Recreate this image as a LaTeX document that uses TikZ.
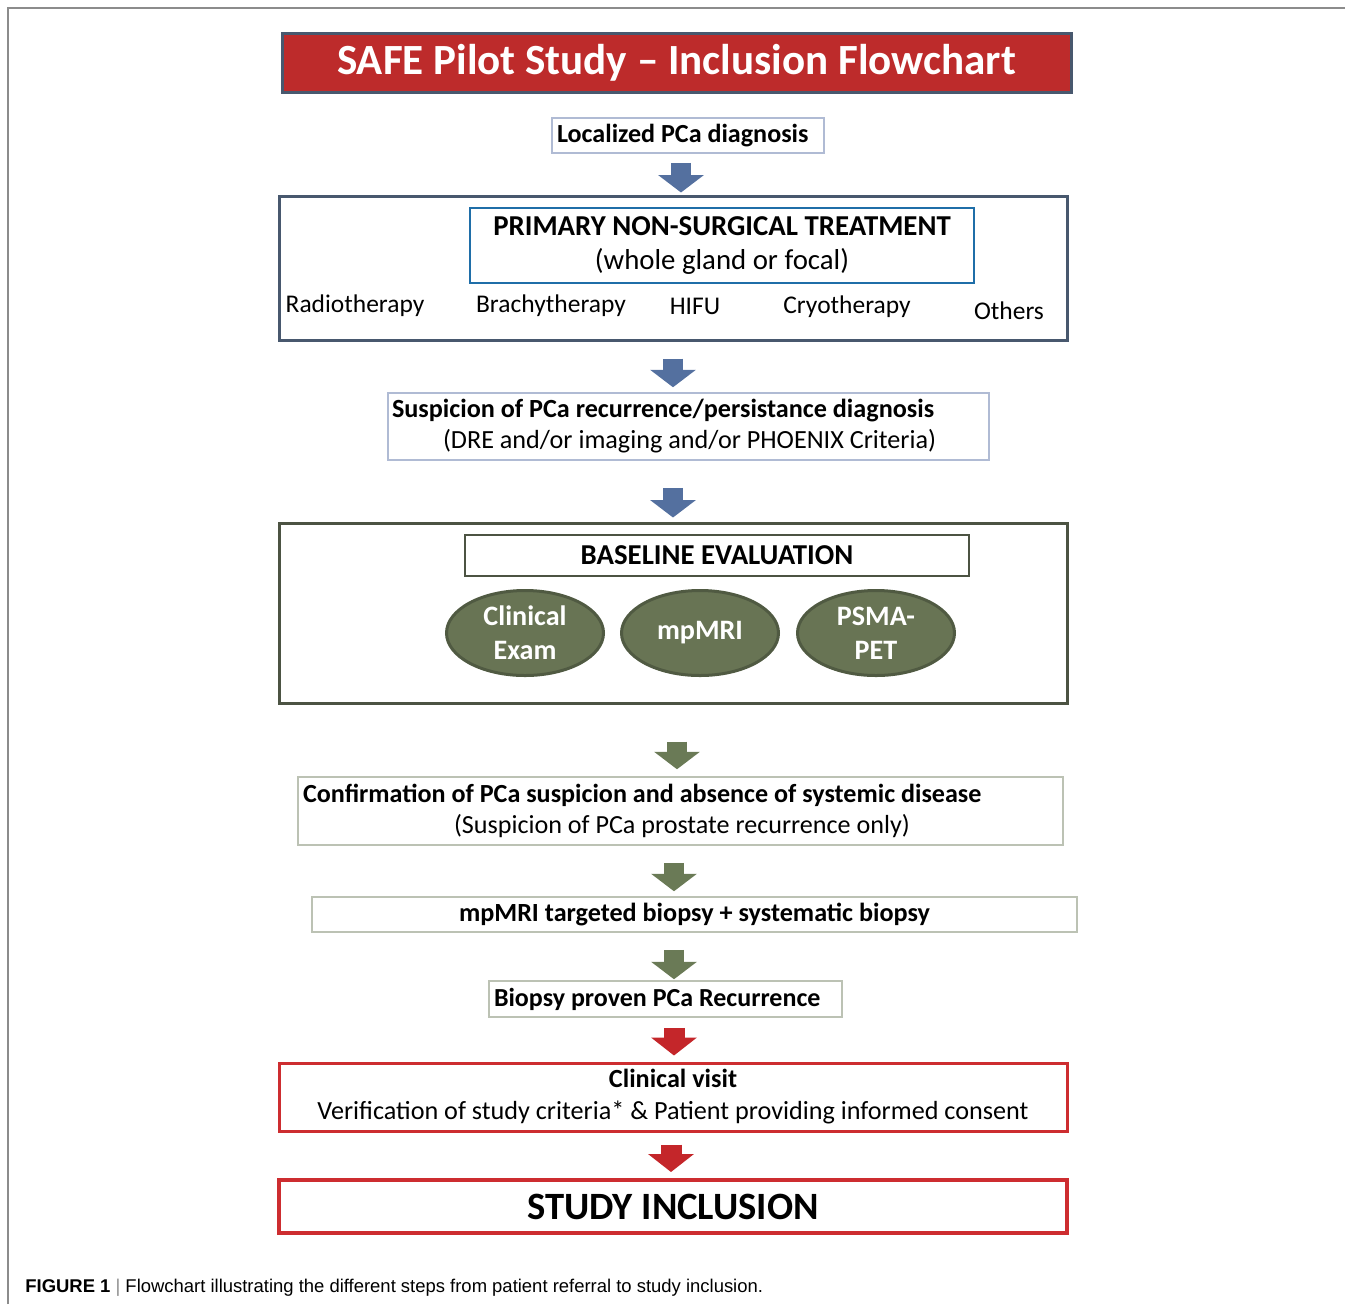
\documentclass[tikz,border=0pt]{standalone}
\usepackage{fontspec}
\setmainfont{Carlito}
\newfontfamily\capfont{Liberation Sans}
\usetikzlibrary{arrows.meta, positioning, shapes.geometric}
\definecolor{titlered}{RGB}{189,43,43}
\definecolor{slate}{RGB}{72,88,110}
\definecolor{steelblue}{RGB}{31,110,168}
\definecolor{paleblue}{RGB}{176,187,212}
\definecolor{arrowblue}{RGB}{84,112,159}
\definecolor{olivedark}{RGB}{76,83,67}
\definecolor{olivefill}{RGB}{104,116,84}
\definecolor{oliveline}{RGB}{80,90,66}
\definecolor{arrowgreen}{RGB}{106,122,86}
\definecolor{palegreen}{RGB}{188,194,180}
\definecolor{boxred}{RGB}{205,45,48}
\definecolor{arrowred}{RGB}{196,38,42}
\definecolor{framegray}{RGB}{140,140,140}

\begin{document}
\begin{tikzpicture}[
    every node/.style={font=\fontsize{14.5}{18}\selectfont, inner sep=0pt},
    bluearrow/.style={-{Triangle[width=0.90cm,length=0.35cm]}, line width=0.40cm, arrowblue},
    greenarrow/.style={-{Triangle[width=0.90cm,length=0.35cm]}, line width=0.39cm, arrowgreen},
    redarrow/.style={-{Triangle[width=0.90cm,length=0.36cm]}, line width=0.42cm, arrowred},
    exam/.style={ellipse, fill=olivefill, draw=oliveline, line width=0.06cm, minimum width=3.14cm, minimum height=1.70cm, text=white, align=center, font=\fontsize{16}{19.3}\selectfont\bfseries}
  ]
		\useasboundingbox (0,0) rectangle (26.9,-26.08);
		\draw [framegray, line width=0.03cm] (0.16,-26.08) -- (0.16,-0.16) -- (26.9,-0.16);
		
		%----------------------------------------------------------------
		\node(title) [fill=titlered, draw=slate, line width=0.06cm, minimum width=15.78cm, minimum height=1.18cm, text=white, font=\fontsize{24.5}{28}\selectfont\bfseries] at (13.53,-1.25) {SAFE Pilot Study -- Inclusion Flowchart};
		
		\node(loc) [draw=paleblue, line width=0.03cm, minimum height=0.70cm, inner xsep=0.1cm, text width=5.24cm, align=flush left, font=\fontsize{14.85}{18}\selectfont\bfseries] at (13.76,-2.71) {Localized PCa diagnosis};
		
		%----------------------------------------------------------------
		\node(treat) [draw=slate, line width=0.06cm, minimum width=15.76cm, minimum height=2.88cm] at (13.46,-5.36) {};
		\node(primary) [draw=steelblue, line width=0.05cm, minimum width=10.08cm, minimum height=1.50cm, align=center, font=\fontsize{16.4}{19.3}\selectfont] at (14.44,-4.91) {\textbf{PRIMARY NON-SURGICAL TREATMENT} \\ (whole gland or focal)};
		\node(radio) at (7.10,-6.12) {Radiotherapy};
		\node(brachy) at (11.02,-6.12) {Brachytherapy};
		\node(hifu) at (13.90,-6.12) {HIFU};
		\node(cryo) at (16.94,-6.14) {Cryotherapy};
		\node(others) at (20.18,-6.22) {Others};
		
		\node(susp) [draw=paleblue, line width=0.03cm, minimum height=1.34cm, inner xsep=0.08cm, text width=11.86cm, align=flush left, font=\fontsize{14.9}{17.6}\selectfont] at (13.77,-8.53) {\textbf{Suspicion of PCa recurrence/persistance diagnosis} \\
			\hspace*{1.02cm}(DRE and/or imaging and/or PHOENIX Criteria)};
		
		%----------------------------------------------------------------
		\node(base) [draw=olivedark, line width=0.06cm, minimum width=15.76cm, minimum height=3.60cm] at (13.46,-12.26) {};
		\node(baseline) [draw=olivedark, line width=0.05cm, minimum width=10.08cm, minimum height=0.82cm, font=\fontsize{16.4}{19}\selectfont\bfseries] at (14.34,-11.11) {BASELINE EVALUATION};
		\node(clinexam) [exam] at (10.50,-12.66) {Clinical \\ Exam};
		\node(mpmri) [exam] at (14.00,-12.66) {mpMRI};
		\node(psma) [exam] at (17.52,-12.66) {PSMA- \\ PET};
		
		%----------------------------------------------------------------
		\node(confirm) [draw=palegreen, line width=0.03cm, minimum height=1.36cm, inner xsep=0.1cm, text width=15.10cm, align=flush left, font=\fontsize{14.86}{17.6}\selectfont] at (13.61,-16.22) {\textbf{Confirmation of PCa suspicion and absence of systemic disease} \\
			\hspace*{3.02cm}(Suspicion of PCa prostate recurrence only)};
		\node(mpbiopsy) [draw=palegreen, line width=0.03cm, minimum width=15.30cm, minimum height=0.70cm, font=\fontsize{14.9}{18}\selectfont\bfseries] at (13.89,-18.29) {mpMRI targeted biopsy + systematic biopsy};
		\node(proven) [draw=palegreen, line width=0.03cm, minimum height=0.72cm, inner xsep=0.1cm, text width=6.86cm, align=flush left, font=\fontsize{14.8}{18}\selectfont\bfseries] at (13.31,-19.98) {Biopsy proven PCa Recurrence};
		
		%----------------------------------------------------------------
		\node(visit) [draw=boxred, line width=0.06cm, minimum width=15.76cm, minimum height=1.36cm, align=center, font=\fontsize{14.9}{18.2}\selectfont] at (13.46,-21.94) {\textbf{Clinical visit} \\ Verification of study criteria* \& Patient providing informed consent};
		\node(incl) [draw=boxred, line width=0.08cm, minimum width=15.76cm, minimum height=1.06cm, font=\fontsize{22}{24}\selectfont\bfseries] at (13.46,-24.13) {STUDY INCLUSION};
		
		\node(caption) [anchor=base west, font=\capfont\fontsize{10.5}{12}\selectfont] at (0.50,-25.84) {\textbf{FIGURE 1} {\color{framegray}|} Flowchart illustrating the different steps from patient referral to study inclusion.};
		
		%----------------------------------------------------------------
		\draw [bluearrow] ([xshift=-0.14cm,yshift=-0.18cm]loc.south) -- ([xshift=-0.14cm,yshift=0.04cm]loc.south |- treat.north);
		\draw [bluearrow] ([yshift=-0.34cm]treat.south) -- ([yshift=0.10cm]treat.south |- susp.north);
		\draw [bluearrow] ([xshift=-0.31cm,yshift=-0.54cm]susp.south) -- ([xshift=-0.31cm,yshift=0.08cm]susp.south |- base.north);
		\draw [greenarrow] ([xshift=0.08cm,yshift=-0.74cm]base.south) -- ([xshift=0.08cm,yshift=0.14cm]base.south |- confirm.north);
		\draw [greenarrow] ([xshift=-0.13cm,yshift=-0.34cm]confirm.south) -- ([xshift=-0.13cm,yshift=0.10cm]confirm.south |- mpbiopsy.north);
		\draw [greenarrow] ([xshift=-0.41cm,yshift=-0.34cm]mpbiopsy.south) -- ([xshift=-0.41cm,yshift=0.02cm]mpbiopsy.south |- proven.north);
		\draw [redarrow] ([xshift=0.17cm,yshift=-0.20cm]proven.south) -- ([xshift=0.17cm,yshift=0.12cm]proven.south |- visit.north);
		\draw [redarrow] ([xshift=-0.04cm,yshift=-0.24cm]visit.south) -- ([xshift=-0.04cm,yshift=0.12cm]visit.south |- incl.north);
		
	\end{tikzpicture}
\end{document}
